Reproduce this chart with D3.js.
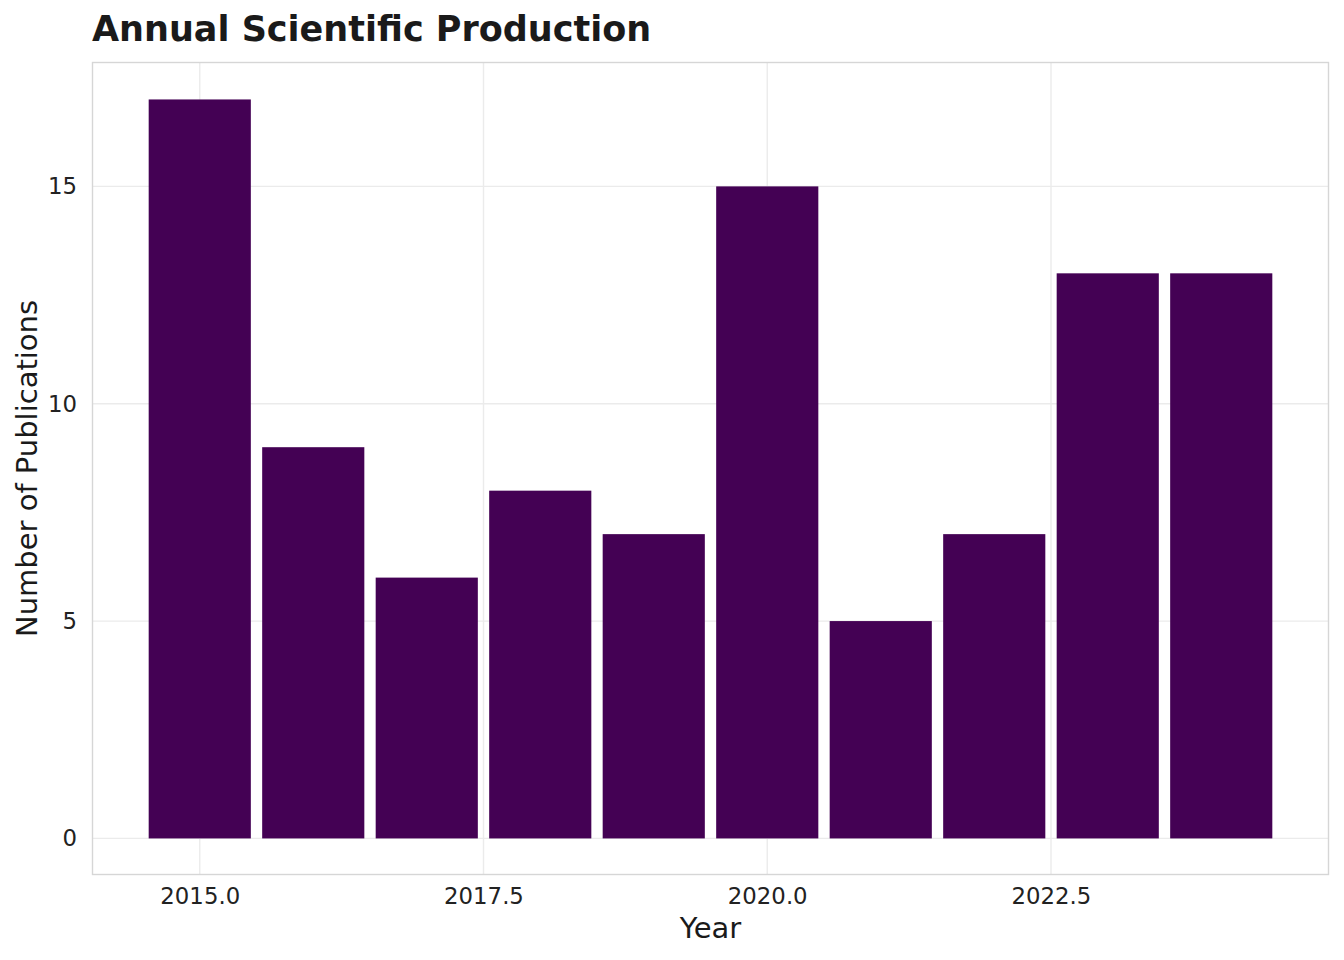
<!DOCTYPE html>
<html>
<head>
<meta charset="utf-8">
<script src="https://cdn.jsdelivr.net/npm/d3@7"></script>
<style>
  body { margin: 0; background: #fff; }
  svg text { font-family: 'DejaVu Sans', sans-serif; }
</style>
</head>
<body>
<svg id="graph"></svg>
<script>
const years = [2015, 2016, 2017, 2018, 2019, 2020, 2021, 2022, 2023, 2024]
const counts = [17, 9, 6, 8, 7, 15, 5, 7, 13, 13]
const xTicks = [2015, 2017.5, 2020, 2022.5]
const yTicks = [0, 5, 10, 15]

const width = 1344
const height = 960
const margin = { top: 62.5, left: 92.5, right: 15.5, bottom: 85.5 }
const bodyWidth = width - margin.left - margin.right
const bodyHeight = height - margin.top - margin.bottom

const svg = d3.select('#graph').attr('width', width).attr('height', height)

const xScale = d3.scaleLinear().domain([2014.055, 2024.945]).range([0, bodyWidth])
const yScale = d3.scaleLinear().domain([-0.83, 17.85]).range([bodyHeight, 0])

const body = svg.append('g').attr('transform', `translate(${margin.left},${margin.top})`)

// grid
body.append('g').selectAll('line').data(yTicks).enter().append('line')
  .attr('x1', 0).attr('x2', bodyWidth)
  .attr('y1', (d) => yScale(d)).attr('y2', (d) => yScale(d))
  .attr('stroke', '#ebebeb').attr('stroke-width', 1.4)
body.append('g').selectAll('line').data(xTicks).enter().append('line')
  .attr('y1', 0).attr('y2', bodyHeight)
  .attr('x1', (d) => xScale(d)).attr('x2', (d) => xScale(d))
  .attr('stroke', '#ebebeb').attr('stroke-width', 1.4)

// bars
const data = years.map((y, i) => ({ year: y, value: counts[i] }))
body.append('g').selectAll('rect').data(data).enter().append('rect')
  .attr('x', (d) => xScale(d.year - 0.45))
  .attr('width', (d) => xScale(d.year + 0.45) - xScale(d.year - 0.45))
  .attr('y', (d) => yScale(d.value))
  .attr('height', (d) => yScale(0) - yScale(d.value))
  .attr('fill', '#440154')

// border
body.append('rect')
  .attr('x', 0).attr('y', 0).attr('width', bodyWidth).attr('height', bodyHeight)
  .attr('fill', 'none').attr('stroke', '#d6d6d6').attr('stroke-width', 1.4)

// axes
const axisX = d3.axisBottom(xScale).tickValues(xTicks).tickFormat(d3.format('.1f')).tickSize(0).tickPadding(13)
const axisY = d3.axisLeft(yScale).tickValues(yTicks).tickSize(0).tickPadding(15.5)

body.append('g').attr('transform', `translate(0,${bodyHeight})`).call(axisX)
  .call((g) => g.select('.domain').remove())
  .selectAll('text').style('font-family', "'DejaVu Sans', sans-serif").style('font-size', '22.8px').attr('fill', '#222')
body.append('g').call(axisY)
  .call((g) => g.select('.domain').remove())
  .selectAll('text').style('font-family', "'DejaVu Sans', sans-serif").style('font-size', '22.8px').attr('fill', '#222')

// titles
svg.append('text')
  .attr('x', 92).attr('y', 41)
  .style('font-size', '35px').style('font-weight', 'bold').attr('fill', '#1a1a1a')
  .text('Annual Scientific Production')

svg.append('text')
  .attr('x', margin.left + bodyWidth / 2).attr('y', 938)
  .attr('text-anchor', 'middle')
  .style('font-size', '29px').attr('fill', '#1a1a1a')
  .text('Year')

svg.append('text')
  .attr('transform', `translate(37,${margin.top + bodyHeight / 2}) rotate(-90)`)
  .attr('text-anchor', 'middle')
  .style('font-size', '29px').attr('fill', '#1a1a1a')
  .text('Number of Publications')
</script>
</body>
</html>
